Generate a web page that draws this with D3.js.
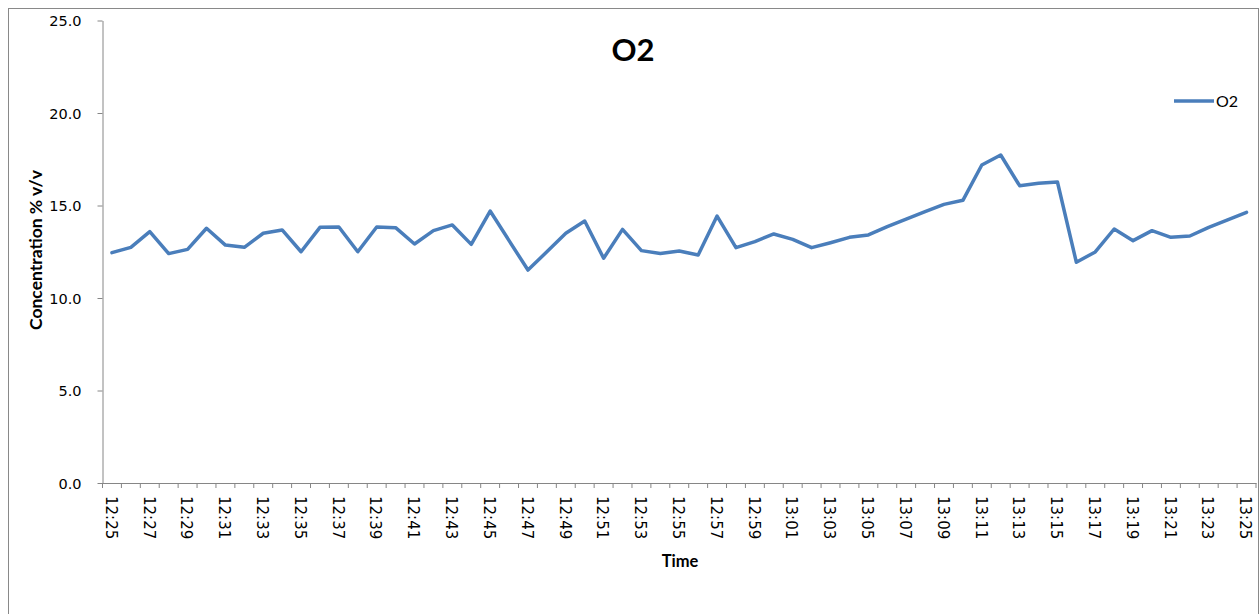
<!DOCTYPE html>
<html><head><meta charset="utf-8">
<script src="https://cdn.jsdelivr.net/npm/d3@7"></script>
<style>body{margin:0;background:#fff}svg{display:block}</style>
</head><body>
<script>
const times = ["12:25","12:26","12:27","12:28","12:29","12:30","12:31","12:32","12:33","12:34",
  "12:35","12:36","12:37","12:38","12:39","12:40","12:41","12:42","12:43","12:44",
  "12:45","12:46","12:47","12:48","12:49","12:50","12:51","12:52","12:53","12:54",
  "12:55","12:56","12:57","12:58","12:59","13:00","13:01","13:02","13:03","13:04",
  "13:05","13:06","13:07","13:08","13:09","13:10","13:11","13:12","13:13","13:14",
  "13:15","13:16","13:17","13:18","13:19","13:20","13:21","13:22","13:23","13:24","13:25"];
const o2Values = [12.45,12.74,13.59,12.40,12.63,13.77,12.86,12.74,13.50,13.68,
  12.50,13.82,13.84,12.50,13.84,13.80,12.92,13.64,13.95,12.90,
  14.70,13.10,11.51,12.50,13.50,14.16,12.15,13.71,12.56,12.41,
  12.54,12.32,14.43,12.72,13.05,13.46,13.17,12.72,12.99,13.28,
  13.41,13.86,14.27,14.67,15.06,15.28,17.19,17.73,16.07,16.20,
  16.27,11.93,12.49,13.73,13.10,13.64,13.28,13.35,13.82,14.22,14.63];
const yTicks = [0,5,10,15,20,25];
const seriesName = "O2";

(function(){
const W = 1260, H = 614;
const svg = d3.select("body").append("svg").attr("width", W).attr("height", H);
svg.append("rect").attr("x", 8.5).attr("y", 8.5).attr("width", 1250).attr("height", 620)
  .attr("fill", "#fff").attr("stroke", "#898989").attr("stroke-width", 1);

const pl = 102.5, pr = 1256, pt = 20.5, pb = 483;
const x = d3.scaleBand().domain(times).range([pl, pr]).padding(0);
const y = d3.scaleLinear().domain([0, 25]).range([pb, pt]);
const axisColor = "#868686";
const font = "DejaVu Sans, Verdana, sans-serif";
const tfont = "Lato, Carlito, sans-serif";

const ya = svg.append("g").attr("transform", `translate(${pl},0)`)
  .call(d3.axisLeft(y).tickValues(yTicks).tickSize(5).tickSizeOuter(0).tickFormat(d3.format(".1f")));
ya.select(".domain").attr("stroke", axisColor);
ya.selectAll(".tick line").attr("stroke", axisColor);
ya.selectAll(".tick text").attr("font-family", font).attr("font-size", 14.5).attr("fill", "#000").attr("x", -21).attr("dy", "0.35em");

const xa = svg.append("g").attr("transform", `translate(0,${pb})`)
  .call(d3.axisBottom(x).tickValues([]).tickSizeOuter(0));
xa.select(".domain").attr("stroke", axisColor);
const bounds = times.map(t => x(t)).concat([x(times[times.length-1]) + x.bandwidth()]);
xa.selectAll("line.b").data(bounds).enter().append("line").attr("class","b")
  .attr("x1", d => d).attr("x2", d => d).attr("y1", 0).attr("y2", 5).attr("stroke", axisColor);
xa.selectAll("text.l").data(times.filter((t, i) => i % 2 === 0)).enter().append("text").attr("class","l")
  .attr("transform", d => `translate(${x(d) + x.bandwidth()/2 - 1},13) rotate(90)`)
  .attr("dy", "0.35em").attr("text-anchor", "start")
  .attr("font-family", font).attr("font-size", 15).attr("fill", "#000").text(d => d);

const line = d3.line().x((d, i) => x(times[i]) + x.bandwidth()/2).y(d => y(d));
svg.append("path").datum(o2Values).attr("d", line).attr("fill", "none")
  .attr("stroke", "#4A7EBB").attr("stroke-width", 3.5).attr("stroke-linejoin", "round").attr("stroke-linecap", "round");

svg.append("text").attr("x", 633).attr("y", 61).attr("text-anchor", "middle")
  .attr("font-family", tfont).attr("font-weight", "bold").attr("font-size", 31).text("O2");
svg.append("text").attr("transform", "translate(42,250) rotate(-90)").attr("text-anchor", "middle")
  .attr("font-family", tfont).attr("font-weight", "bold").attr("font-size", 17.5).text("Concentration % v/v");
svg.append("text").attr("x", 680).attr("y", 567).attr("text-anchor", "middle")
  .attr("font-family", tfont).attr("font-weight", "bold").attr("font-size", 16.5).text("Time");

svg.append("line").attr("x1", 1174).attr("x2", 1214).attr("y1", 101).attr("y2", 101)
  .attr("stroke", "#4A7EBB").attr("stroke-width", 3.5);
svg.append("text").attr("x", 1216).attr("y", 101).attr("dy", "0.35em")
  .attr("font-family", tfont).attr("font-size", 16).text(seriesName);
})();
</script>
</body></html>
